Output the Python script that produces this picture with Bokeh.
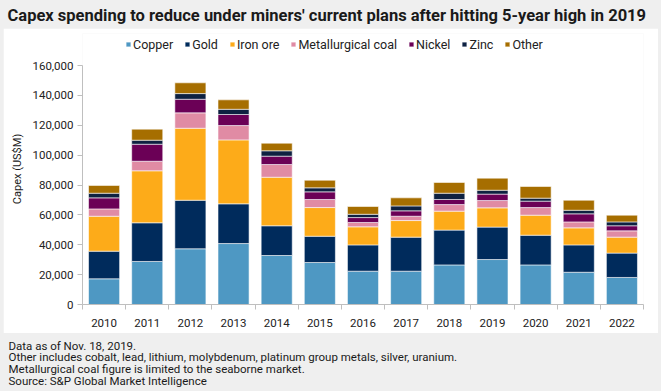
from bokeh.plotting import figure
from bokeh.layouts import column, row
from bokeh.models import (ColumnDataSource, Range1d, FixedTicker, NumeralTickFormatter,
                          Label, Legend, GlobalInlineStyleSheet)
from bokeh.embed import file_html
from bokeh.resources import INLINE

# ---- data (US$M) ----
years = [2010, 2011, 2012, 2013, 2014, 2015, 2016, 2017, 2018, 2019, 2020, 2021, 2022]
copper = [17200, 28800, 37300, 40800, 32800, 28100, 22300, 22300, 26500, 30100, 26500, 21600, 18100]
gold = [18500, 25900, 32500, 26600, 19900, 17600, 17600, 22800, 23300, 21700, 19900, 18300, 16300]
iron_ore = [23400, 34800, 48200, 42800, 32500, 19200, 12100, 11100, 12700, 12900, 13400, 11400, 10700]
met_coal = [4900, 6400, 10300, 9600, 8500, 5400, 2900, 2900, 4400, 4900, 5100, 4000, 4200]
nickel = [7400, 11400, 9100, 7400, 5600, 5100, 3300, 3600, 3400, 4300, 4300, 5400, 3400]
zinc = [3100, 2700, 3800, 3500, 3600, 2700, 2200, 3300, 4200, 2600, 2000, 2400, 2600]
other = [5200, 7400, 7200, 6300, 5100, 5100, 5200, 5400, 7200, 8100, 7800, 6700, 4500]

series_names = ["Copper", "Gold", "Iron ore", "Metallurgical coal", "Nickel", "Zinc", "Other"]
series_keys = ["copper", "gold", "iron_ore", "met_coal", "nickel", "zinc", "other"]
colors = ["#4E98C3", "#002B5C", "#FDAB19", "#E08BA4", "#6B0056", "#0E2141", "#A66E00"]
y_ticks = [0, 20000, 40000, 60000, 80000, 100000, 120000, 140000, 160000]
y_max = 160000

title_text = "Capex spending to reduce under miners' current plans after hitting 5-year high in 2019"
footer_lines = [
    "Data as of Nov. 18, 2019.",
    "Other includes cobalt, lead, lithium, molybdenum, platinum group metals, silver, uranium.",
    "Metallurgical coal figure is limited to the seaborne market.",
    "Source: S&P Global Market Intelligence",
]

FONT = "Roboto"
GRAY = "#EFEFEF"
TXT = "#1a1a1a"
W = 661
TITLE_H, MAIN_H, FOOT_H = 28, 305, 58
MAIN_W = 655
# main frame (pixels inside the white panel)
FL, FR = 79, 640
F_TOP, AX_TOP, FB = 5, 37, 276


def text_strip(height, lines):
    f = figure(width=W, height=height, output_backend="svg", toolbar_location=None,
               x_range=Range1d(0, W), y_range=Range1d(height, 0),
               x_axis_location=None, y_axis_location=None,
               min_border_left=0, min_border_right=0, min_border_top=0, min_border_bottom=0)
    f.border_fill_color = GRAY
    f.background_fill_color = GRAY
    f.outline_line_color = None
    f.grid.visible = False
    for (x, y, txt, size, style) in lines:
        f.add_layout(Label(x=x, y=y, text=txt, text_font=FONT, text_font_size=size,
                           text_font_style=style, text_color=TXT,
                           text_baseline="middle", text_align="left"))
    return f


title_fig = text_strip(TITLE_H, [(7, 14.5, title_text, "16.5px", "bold")])
foot_fig = text_strip(FOOT_H, [(8, 12 + i * 11.7, t, "11.5px", "normal")
                               for i, t in enumerate(footer_lines)])

source = ColumnDataSource(dict(years=years, copper=copper, gold=gold, iron_ore=iron_ore,
                               met_coal=met_coal, nickel=nickel, zinc=zinc, other=other))

y_end = y_max * (FB - F_TOP) / (FB - AX_TOP)
p = figure(width=MAIN_W, height=MAIN_H, output_backend="svg", toolbar_location=None,
           x_range=Range1d(years[0] - 0.5, years[-1] + 0.5), y_range=Range1d(0, y_end),
           min_border_left=FL, min_border_right=MAIN_W - FR, min_border_top=F_TOP,
           min_border_bottom=MAIN_H - FB)
p.margin = (0, 3, 0, 3)
p.border_fill_color = "white"
p.background_fill_color = "white"
p.outline_line_color = None
p.grid.grid_line_color = None

renderers = p.vbar_stack(series_keys, x="years", width=0.72, source=source, color=colors,
                         line_color="white", line_width=0.8, line_alpha=0.7)

legend = Legend(items=[(n, [r]) for n, r in zip(series_names, renderers)],
                orientation="horizontal", location=(126 - 82 - 1, FB - 23.5),
                glyph_width=6, glyph_height=6, label_standoff=2, spacing=11,
                padding=0, margin=0, border_line_color=None, background_fill_alpha=0,
                label_text_font=FONT, label_text_font_size="12.5px",
                label_text_color="#222222", label_height=12)
p.add_layout(legend)

# axes
xa = p.xaxis[0]
xa.ticker = FixedTicker(ticks=years, minor_ticks=[y - 0.5 for y in years] + [years[-1] + 0.5])
xa.major_tick_line_color = None
xa.minor_tick_line_color = "#BFBFBF"
xa.minor_tick_out = 5
xa.minor_tick_in = 0
xa.axis_line_color = "#BFBFBF"
xa.major_label_text_font = FONT
xa.major_label_text_font_size = "11.5px"
xa.major_label_text_color = "#222222"
xa.major_label_standoff = 8

ya = p.yaxis[0]
ya.ticker = FixedTicker(ticks=y_ticks)
ya.bounds = (0, y_max)
ya.formatter = NumeralTickFormatter(format="0,0")
ya.minor_tick_line_color = None
ya.major_tick_line_color = "#BFBFBF"
ya.major_tick_out = 5
ya.major_tick_in = 0
ya.axis_line_color = "#BFBFBF"
ya.major_label_text_font = FONT
ya.major_label_text_font_size = "11.5px"
ya.major_label_text_color = "#222222"
ya.major_label_standoff = 4
ya.axis_label = "Capex (US$M)"
ya.axis_label_text_font = FONT
ya.axis_label_text_font_size = "11px"
ya.axis_label_text_font_style = "normal"
ya.axis_label_text_color = "#222222"
ya.axis_label_standoff = 5

page = column(row(title_fig), row(p), row(foot_fig), spacing=0)
page.stylesheets = [GlobalInlineStyleSheet(
    css="html, body { margin: 0 !important; padding: 0; background: #EFEFEF; }")]

open("out.html", "w").write(file_html(page, INLINE))
